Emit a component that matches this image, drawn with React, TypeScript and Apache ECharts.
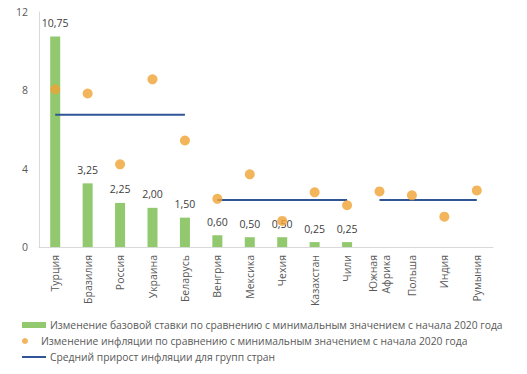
import React, { useEffect, useRef } from "react";
import * as echarts from "echarts";

const categories = ["Турция", "Бразилия", "Россия", "Украина", "Беларусь", "Венгрия", "Мексика", "Чехия", "Казахстан", "Чили", "Южная\nАфрика", "Польша", "Индия", "Румыния"];
const rateChange = [10.75, 3.25, 2.25, 2.0, 1.5, 0.6, 0.5, 0.5, 0.25, 0.25, null, null, null, null];
const inflationChange = [8.05, 7.84, 4.22, 8.56, 5.44, 2.46, 3.71, 1.33, 2.79, 2.13, 2.84, 2.64, 1.55, 2.89];
const groupAvg1 = [6.75, 6.75, 6.75, 6.75, 6.75, null, null, null, null, null, null, null, null, null];
const groupAvg2 = [null, null, null, null, null, 2.4, 2.4, 2.4, 2.4, 2.4, null, null, null, null];
const groupAvg3 = [null, null, null, null, null, null, null, null, null, null, 2.4, 2.4, 2.4, 2.4];
const yTicks = { min: 0, max: 12, interval: 4 };

const nameBar = "Изменение базовой ставки по сравнению с минимальным значением с начала 2020 года";
const nameDot = "Изменение инфляции по сравнению с минимальным значением с начала 2020 года";
const nameLine = "Средний прирост инфляции для групп стран";

const FONT = "Open Sans";
const TXT = "#595959";

export default function App() {
  const ref = useRef<HTMLDivElement>(null);
  useEffect(() => {
    if (!ref.current) return;
    const chart = echarts.init(ref.current, null, { renderer: "svg" });
    const lineSeries = (data: (number | null)[]) => ({
      type: "line",
      name: nameLine,
      data,
      symbol: "none",
      connectNulls: false,
      lineStyle: { color: "#2F5597", width: 2 },
      itemStyle: { color: "#2F5597" },
      z: 3,
    });
    const legendBase = {
      orient: "horizontal",
      left: 22,
      padding: 0,
      itemWidth: 24,
      itemHeight: 6,
      itemGap: 0,
      textStyle: { color: TXT, fontSize: 10.3, fontFamily: FONT, padding: [0, 0, 0, -1] },
    };
    chart.setOption({
      animation: false,
      textStyle: { fontFamily: FONT },
      grid: { left: 39, right: 34, top: 12, bottom: 127 },
      legend: [
        { ...legendBase, top: 320, data: [{ name: nameBar, icon: "rect" }] },
        { ...legendBase, top: 336, data: [{ name: nameDot, icon: "circle", itemStyle: { color: "#F0A233" } }] },
        { ...legendBase, top: 352, itemHeight: 2, data: [{ name: nameLine, icon: "rect", itemStyle: { color: "#2F5597" } }] },
      ],
      xAxis: {
        type: "category",
        data: categories,
        axisLine: { lineStyle: { color: "#D9D9D9" } },
        axisTick: { show: false },
        axisLabel: { rotate: 90, color: TXT, fontSize: 10.5, fontFamily: FONT, interval: 0, margin: 8, lineHeight: 13 },
      },
      yAxis: {
        type: "value",
        min: yTicks.min,
        max: yTicks.max,
        interval: yTicks.interval,
        splitLine: { show: false },
        axisLine: { show: true, lineStyle: { color: "#D9D9D9" } },
        axisTick: { show: false },
        axisLabel: { color: TXT, fontSize: 10.5, fontFamily: FONT, margin: 11 },
      },
      series: [
        {
          type: "bar",
          name: nameBar,
          data: rateChange,
          barWidth: 10,
          itemStyle: { color: "#92C86E" },
          label: {
            show: true,
            position: "top",
            distance: 8,
            color: "#404040",
            fontSize: 10.5,
            fontFamily: FONT,
            formatter: (p: any) => (p.value == null ? "" : Number(p.value).toFixed(2).replace(".", ",")),
          },
          z: 2,
        },
        {
          type: "scatter",
          name: nameDot,
          data: inflationChange,
          symbolSize: 10,
          itemStyle: { color: "#F0A233" },
          z: 4,
        },
        lineSeries(groupAvg1),
        lineSeries(groupAvg2),
        lineSeries(groupAvg3),
      ],
    });
    return () => chart.dispose();
  }, []);
  return <div ref={ref} style={{ width: 527, height: 374, position: "absolute", left: 0, top: 0 }} />;
}
